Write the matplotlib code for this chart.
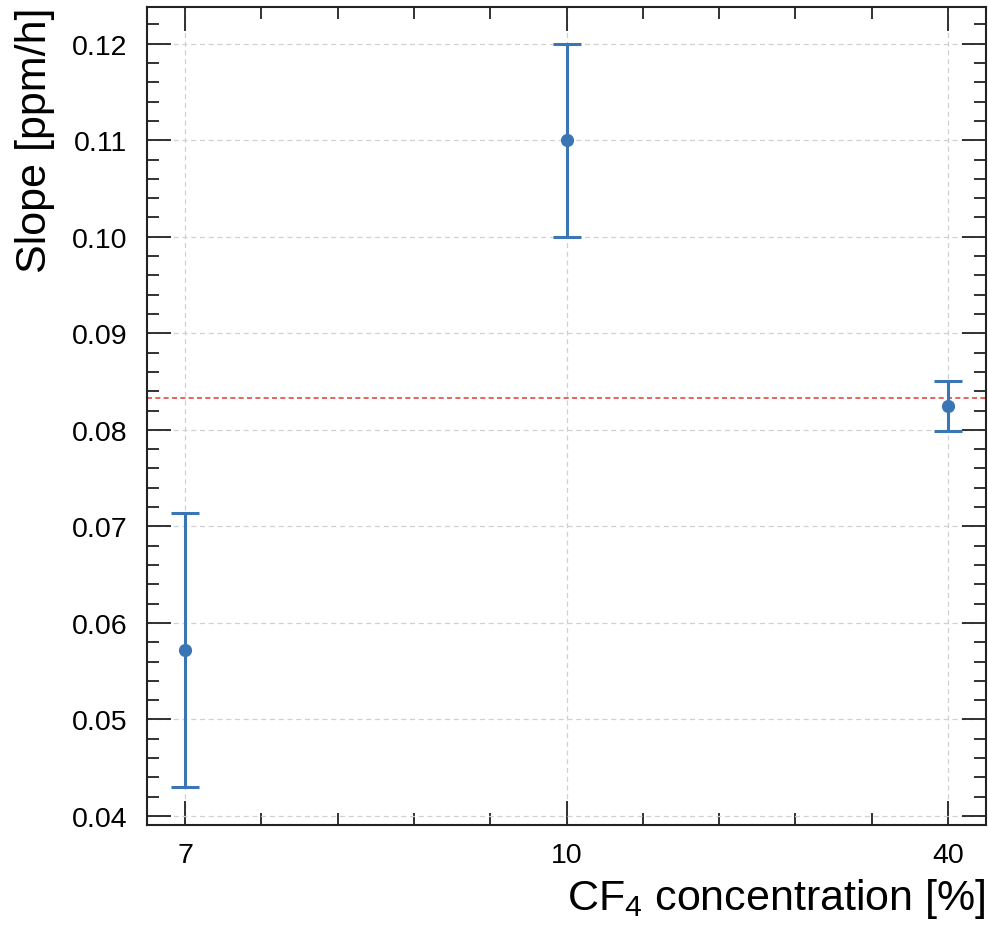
import matplotlib
matplotlib.use("Agg")
import matplotlib.pyplot as plt
from matplotlib.ticker import MultipleLocator

plt.rcParams['font.family'] = ['Liberation Sans', 'DejaVu Sans']
plt.rcParams['mathtext.default'] = 'regular'

# Data
concentrations = ["7", "10", "40"]
slopes = [0.0572, 0.110, 0.0825]
slope_errors = [0.0142, 0.010, 0.0026]
mean_slope = 0.0833

blue = "#3a76b3"
red = "#e04a40"

fig = plt.figure(figsize=(9.88, 9.29), dpi=100)
ax = fig.add_axes([0.1488, 0.1109, 0.998 - 0.1488, 0.9914 - 0.1109])

x = list(range(len(concentrations)))
ax.errorbar(x, slopes, yerr=slope_errors, fmt='o', color=blue, ms=8.5,
            elinewidth=2.2, capsize=10, capthick=2.2, zorder=3)
ax.axhline(mean_slope, color=red, ls='--', lw=1.2, dashes=(3, 2), zorder=2)

ax.set_xlim(-0.1, 2.1)
ax.set_ylim(0.03907, 0.1238)
ax.set_xticks(x)
ax.set_xticklabels(concentrations)
ax.xaxis.set_minor_locator(MultipleLocator(0.2))
ax.yaxis.set_major_locator(MultipleLocator(0.01))
ax.yaxis.set_minor_locator(MultipleLocator(0.002))
ax.yaxis.set_major_formatter(matplotlib.ticker.FormatStrFormatter('%.2f'))

ax.grid(True, which='major', ls=(0, (4, 3)), color='#d0d0d0', lw=0.9, zorder=0)
ax.set_axisbelow(True)

ax.tick_params(which='both', direction='in', top=True, right=True,
               labelsize=20.5, color='#222222')
ax.tick_params(which='major', length=17, width=1.3)
ax.tick_params(which='minor', length=8.5, width=1.3)
ax.tick_params(axis='y', which='major', pad=14)
ax.tick_params(axis='x', which='major', pad=12)
for s in ax.spines.values():
    s.set_linewidth(1.5)
    s.set_color('#222222')

ax.set_ylabel("Slope [ppm/h]", fontsize=31, loc='top', labelpad=12)
ax.set_xlabel("CF$_4$ concentration [%]", fontsize=31, loc='right', labelpad=6)

fig.savefig("out.png", dpi=100)
